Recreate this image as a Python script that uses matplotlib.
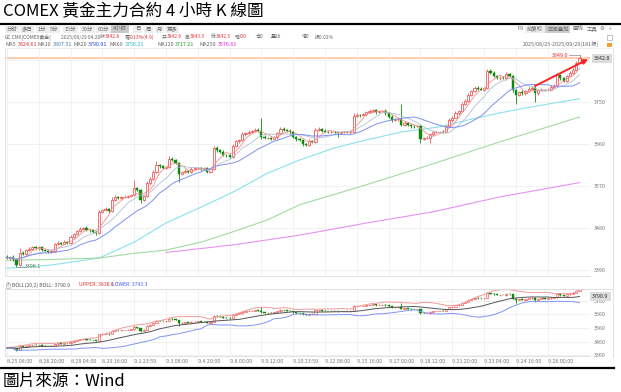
import numpy as np
import pandas as pd
import matplotlib.pyplot as plt
from matplotlib.lines import Line2D
from matplotlib.patches import Rectangle
import matplotlib.transforms as mtransforms

plt.rcParams['font.family'] = ['Noto Sans CJK SC', 'DejaVu Sans']

# --- 4-hour closes, 181 bars (2025/08/25 - 2025/09/29) ---
closes = [
    3415, 3418, 3412, 3400, 3426, 3424, 3432, 3435, 3438, 3436,
    3438, 3432, 3430, 3428, 3430, 3444, 3448, 3446, 3450, 3448,
    3460, 3466, 3472, 3478, 3480, 3475, 3474, 3470, 3468, 3513,
    3518, 3520, 3515, 3540, 3546, 3544, 3545, 3546, 3548, 3550,
    3565, 3560, 3540, 3548, 3575, 3585, 3600, 3614, 3612, 3608,
    3610, 3628, 3625, 3618, 3595, 3600, 3602, 3600, 3606, 3607,
    3608, 3605, 3607, 3600, 3605, 3650, 3646, 3643, 3636, 3635,
    3632, 3655, 3665, 3668, 3680, 3683, 3686, 3688, 3690, 3688,
    3675, 3672, 3673, 3671, 3674, 3682, 3692, 3690, 3688, 3684,
    3675, 3670, 3668, 3660, 3658, 3666, 3664, 3690, 3692, 3688,
    3686, 3685, 3686, 3684, 3683, 3685, 3686, 3684, 3686, 3720,
    3722, 3721, 3723, 3728, 3730, 3732, 3727, 3730, 3731, 3725,
    3718, 3710, 3712, 3713, 3700, 3705, 3700, 3698, 3697, 3697,
    3670, 3672, 3673, 3680, 3684, 3685, 3686, 3685, 3698, 3710,
    3716, 3725, 3730, 3745, 3752, 3765, 3772, 3780, 3778, 3776,
    3779, 3815, 3812, 3805, 3800, 3801, 3800, 3810, 3805, 3775,
    3765, 3770, 3768, 3772, 3778, 3780, 3768, 3774, 3776, 3775,
    3776, 3782, 3784, 3807, 3800, 3795, 3805, 3812, 3818, 3833,
    3842.8,
]
first_open = 3418

# shadow length above / below the body
upper_wick = [
    3, 2, 4, 2, 10, 3, 2, 3, 2, 3,
    2, 3, 2, 2, 3, 4, 3, 2, 3, 2,
    4, 3, 3, 4, 2, 3, 2, 2, 2, 4,
    3, 4, 2, 5, 3, 2, 2, 3, 2, 3,
    17, 3, 2, 3, 4, 3, 4, 8, 3, 2,
    3, 6, 3, 2, 3, 2, 3, 2, 3, 2,
    2, 3, 2, 2, 2, 5, 4, 2, 3, 2,
    2, 4, 3, 2, 4, 3, 3, 2, 3, 3,
    27, 3, 2, 2, 3, 4, 4, 3, 2, 3,
    3, 2, 3, 2, 2, 3, 2, 4, 3, 2,
    3, 2, 3, 2, 2, 3, 2, 2, 3, 5,
    3, 2, 3, 3, 4, 3, 2, 3, 2, 3,
    2, 3, 2, 3, 33, 3, 2, 3, 2, 2,
    3, 2, 3, 2, 3, 2, 2, 3, 3, 4,
    3, 4, 3, 4, 3, 4, 3, 4, 3, 3,
    3, 6, 4, 3, 3, 3, 3, 3, 2, 3,
    2, 3, 4, 3, 3, 3, 4, 2, 3, 2,
    3, 3, 4, 4, 3, 2, 3, 3, 4, 4,
    6.2,
]
lower_wick = [
    3, 4, 3, 3.9, 2, 3, 2, 2, 3, 2,
    3, 2, 3, 2, 2, 3, 2, 3, 2, 2,
    2, 3, 2, 2, 3, 2, 3, 2, 3, 2,
    2, 3, 3, 2, 3, 2, 3, 2, 2, 3,
    3, 2, 8, 3, 2, 3, 2, 3, 4, 3,
    3, 2, 3, 2, 17, 3, 2, 3, 2, 3,
    2, 3, 2, 3, 2, 2, 3, 2, 3, 4,
    3, 2, 2, 3, 2, 3, 2, 3, 2, 3,
    4, 3, 2, 3, 2, 3, 2, 3, 2, 3,
    3, 4, 3, 6, 4, 2, 3, 3, 2, 3,
    2, 3, 2, 3, 9, 2, 3, 2, 3, 2,
    2, 3, 2, 3, 2, 3, 3, 2, 3, 3,
    4, 3, 2, 3, 3, 2, 3, 4, 3, 2,
    9, 3, 2, 12, 3, 2, 3, 2, 3, 2,
    3, 2, 3, 2, 3, 2, 3, 2, 3, 2,
    3, 2, 3, 3, 2, 3, 2, 3, 3, 4,
    20, 3, 4, 3, 2, 3, 18, 3, 2, 3,
    3, 2, 3, 2, 3, 3, 2, 3, 2, 3,
    0.3,
]

# long moving averages (bar index, value)
ma60_idx = [0, 14, 29, 40, 50, 61, 71, 82, 92, 103, 113, 124, 136, 145, 155, 165, 180]
ma60_val = [3393, 3400, 3415, 3449, 3490, 3524, 3556, 3597, 3625, 3651, 3668, 3685, 3696, 3711, 3726, 3739, 3756.2]
ma120_idx = [0, 14, 29, 40, 50, 61, 71, 82, 92, 113, 134, 155, 180]
ma120_val = [3410, 3412, 3415, 3425, 3432, 3449, 3471, 3497, 3529, 3572, 3617, 3664, 3717.2]
ma250_idx = [50, 71, 92, 113, 134, 155, 180]
ma250_val = [3427, 3443, 3464, 3490, 3514, 3546, 3576.6]

time_labels = ['8.25 08:00', '8.26 20:00', '8.28 04:00', '8.29 16:00', '9.1 23:59',
               '9.3 08:00', '9.4 20:00', '9.8 00:00', '9.9 12:00', '9.10 23:59',
               '9.12 08:00', '9.15 16:00', '9.17 00:00', '9.18 12:00', '9.21 20:00',
               '9.23 04:00', '9.24 16:00', '9.26 00:00']

main_ticks = [3390, 3480, 3570, 3660, 3750]
boll_ticks = [3360, 3460, 3560, 3660, 3760]

UP = '#f25858'
DOWN = '#0c8a0c'
GRAY = '#777777'
FS = 3.9

c = np.array(closes, dtype=float)
o = np.array([first_open] + closes[:-1], dtype=float)
hi = np.maximum(o, c) + np.array(upper_wick)
lo = np.minimum(o, c) - np.array(lower_wick)
x = np.arange(len(c))
s = pd.Series(c)
ma5 = s.rolling(5, min_periods=1).mean()
ma10 = s.rolling(10, min_periods=1).mean()
ma20 = s.rolling(20, min_periods=1).mean()
sd20 = s.rolling(20, min_periods=1).std(ddof=0).fillna(0)
boll_up = ma20 + 2 * sd20
boll_dn = ma20 - 2 * sd20

W, H = 621, 392
fig = plt.figure(figsize=(W / 100, H / 100), dpi=100)


def fx(px):
    return px / W


def fy(py):
    return 1 - py / H


def label(px, py, txt, color='#666666', fs=FS, **kw):
    return fig.text(fx(px), fy(py), txt, fontsize=fs, color=color, va='center', ha='left', **kw)


def candles(ax, lw_edge=0.6):
    up = c >= o
    ax.vlines(x, lo, hi, colors=np.where(up, UP, DOWN), lw=0.6, zorder=3)
    ax.bar(x[up], np.maximum(c[up] - o[up], 0.3), bottom=o[up], width=0.68,
           facecolor='white', edgecolor=UP, lw=lw_edge, zorder=4)
    ax.bar(x[~up], np.maximum(o[~up] - c[~up], 0.3), bottom=c[~up], width=0.68,
           color=DOWN, edgecolor=DOWN, lw=0.3, zorder=4)


def style(ax, ticks, ylim):
    ax.set_xlim(-0.6, 183.3)
    ax.set_ylim(*ylim)
    ax.set_xticks(np.arange(0, 171, 10))
    ax.set_yticks(ticks)
    ax.yaxis.tick_right()
    ax.tick_params(length=0, labelsize=FS, labelcolor=GRAY, pad=2.5)
    ax.grid(color='#efefef', lw=0.6)
    for sp in ax.spines.values():
        sp.set_color('#dddddd')
        sp.set_linewidth(0.6)
    ax.spines['right'].set_visible(False)


# --- main K-line panel ---
ax = fig.add_axes([fx(5), fy(276), fx(585), 228 / H])
style(ax, main_ticks, (3376.5, 3865))
ax.set_xticklabels([])
ax.axhline(3840, color='#efefef', lw=0.6, zorder=0)
candles(ax)
ax.plot(x, ma5, color='#f59090', lw=0.6, zorder=5)
ax.plot(x, ma10, color='#b0c0d4', lw=0.6, zorder=5)
ax.plot(x, ma20, color='#8090f0', lw=0.7, zorder=5)
ax.plot(ma60_idx, ma60_val, color='#8ae2ec', lw=0.8, zorder=2)
ax.plot(ma120_idx, ma120_val, color='#a0dca0', lw=0.8, zorder=2)
ax.plot(ma250_idx, ma250_val, color='#e890f2', lw=0.8, zorder=2)
ax.axhline(closes[-1], color='#ffc49a', lw=1.2, zorder=1)

ytr = mtransforms.blended_transform_factory(ax.transAxes, ax.transData)
ax.text(1.006, closes[-1], f'{closes[-1]:.1f}', transform=ytr, fontsize=FS, color='#333333',
        va='center', ha='left', zorder=10,
        bbox=dict(boxstyle='square,pad=0.35', fc='#dcdcdc', ec='none'))

ax.plot([3.4, 5.4], [lo[3], lo[3]], color='#888888', lw=0.5, zorder=6)
ax.text(5.6, lo[3], f'{lo[3]:.1f}', fontsize=FS, color='#557755', va='center', ha='left', zorder=6)
ax.plot([176.6, 180], [hi[-1], hi[-1]], color='#888888', lw=0.5, zorder=6)
ax.plot([180, 180], [hi[-1], hi[-1] - 2.5], color='#888888', lw=0.5, zorder=6)
ax.text(176.4, hi[-1], f'{hi[-1]:.1f}', fontsize=FS, color='#e03030', va='center', ha='right', zorder=6)

ax.annotate('', xy=(182.7, 3841), xytext=(166, 3783.6), zorder=8, annotation_clip=False,
            arrowprops=dict(arrowstyle='-|>', color='#ff2020', lw=1.4, mutation_scale=7,
                            shrinkA=0, shrinkB=0))

# --- BOLL panel ---
bx = fig.add_axes([fx(5), fy(356), fx(585), 67 / H])
style(bx, boll_ticks, (3356, 3845))
bx.set_xticklabels(time_labels, fontsize=FS, color=GRAY, ha='left')
bx.tick_params(axis='x', pad=2)
candles(bx, lw_edge=0.5)
bx.plot(x, boll_up, color='#f29a9a', lw=0.7, zorder=5)
bx.plot(x, ma20, color='#555555', lw=0.7, zorder=5)
bx.plot(x, boll_dn, color='#7f95f5', lw=0.7, zorder=5)
btr = mtransforms.blended_transform_factory(bx.transAxes, bx.transData)
bx.text(1.004, 3790.9, '3790.9', transform=btr, fontsize=FS, color='#333333',
        va='center', ha='left', zorder=10,
        bbox=dict(boxstyle='square,pad=0.35', fc='#dcdcdc', ec='none'))

# --- frame lines ---
fig.add_artist(Line2D([0, fx(620)], [fy(24), fy(24)], color='black', lw=1.6))
fig.add_artist(Line2D([0, fx(614)], [fy(368), fy(368)], color='black', lw=1.6))
fig.add_artist(Line2D([fx(613), fx(613)], [fy(48), fy(357)], color='#dddddd', lw=0.6))
fig.add_artist(Line2D([fx(5), fx(613)], [fy(48), fy(48)], color='#eeeeee', lw=0.6))
fig.add_artist(Line2D([fx(5), fx(613)], [fy(289), fy(289)], color='#dddddd', lw=0.6))

# --- title and footer ---
fig.text(fx(3), fy(12), 'COMEX 黃金主力合約 4 小時 K 線圖', fontsize=12,
         family=['Noto Sans CJK TC', 'DejaVu Sans'], va='center', ha='left')
fig.text(fx(3), fy(381), '圖片來源：Wind', fontsize=12,
         family=['Noto Sans CJK TC', 'DejaVu Sans'], va='center', ha='left')

# --- terminal toolbar ---
tb_items = [('分时', 7), ('多日', 22), ('1分', 38), ('5分', 50), ('15分', 65), ('30分', 82),
            ('60分', 98), ('4小时', 113), ('日', 135), ('周', 146), ('月', 157), ('更多', 167)]
for lab, px in tb_items:
    fc = '#c8c8c8' if lab == '4小时' else '#eeeeee'
    label(px, 29, lab, bbox=dict(boxstyle='square,pad=0.3', fc=fc, ec='none'))

rt_items = [('F9', 518, None), ('前复权', 527, '#eeeeee'), ('区间叠加', 547, '#cccccc'),
            ('画线', 573, None), ('工具', 587, None), ('⚙', 600, None), ('»', 609, None)]
for lab, px, fc in rt_items:
    kw = {} if fc is None else dict(bbox=dict(boxstyle='square,pad=0.3', fc=fc, ec='none'))
    label(px, 29, lab, **kw)
fig.add_artist(Rectangle((fx(607), fy(40)), fx(5), 5 / H, fc='white', ec='#aaaaaa', lw=0.5))
fig.add_artist(Rectangle((fx(607), fy(47)), fx(5), 4 / H, fc='#f0a030', ec='none'))

# quote line
FQ = 3.5
label(5, 37, 'GC.CMX[COMEX黄金]', fs=FQ)
label(61, 37, '2025/09/29 04:20', fs=FQ)
quote = [('收', '3842.8', 100), ('幅', '0.13%(4.9)', 125), ('开', '3842.6', 162),
         ('高', '3843.3', 185), ('低', '3842.5', 211), ('现', '0.0', 235)]
for lab, val, px in quote:
    label(px, 37, lab, fs=FQ)
    label(px + 5.2, 37, val, color='#e03030', fs=FQ)
for lab, px in [('仓0', 256), ('量86', 271), ('增0', 302), ('振0.02%', 315)]:
    label(px, 37, lab, fs=FQ)

# MA legend line
ma_leg = [('MA5', '3824.61', '#e03030', 5, 18), ('MA10', '3807.51', '#4a7ab0', 38, 53),
          ('MA20', '3790.91', '#2040f0', 73, 88), ('MA60', '3756.21', '#20b8c8', 110, 125),
          ('MA120', '3717.21', '#20a020', 157, 175), ('MA250', '3576.61', '#e020e0', 200, 218)]
for lab, val, col, px, vx in ma_leg:
    label(px, 45, lab)
    label(vx, 45, val, color=col)
label(523, 44, '2025/08/25-2025/09/29(181根)')

# BOLL header
fig.add_artist(Rectangle((fx(6), fy(287.5)), fx(4), 5 / H, fc='#eeeeee', ec='#aaaaaa', lw=0.4))
label(6.9, 285, '?', fs=3.2)
label(12, 285, 'BOLL(20,2) BOLL: 3790.9', color='#555555', fs=3.7)
label(79, 285, 'UPPER: 3838.6', color='#e03030', fs=3.7)
label(112, 285, 'LOWER: 3743.3', color='#4060f0', fs=3.7)

fig.savefig('out.png', dpi=100)
